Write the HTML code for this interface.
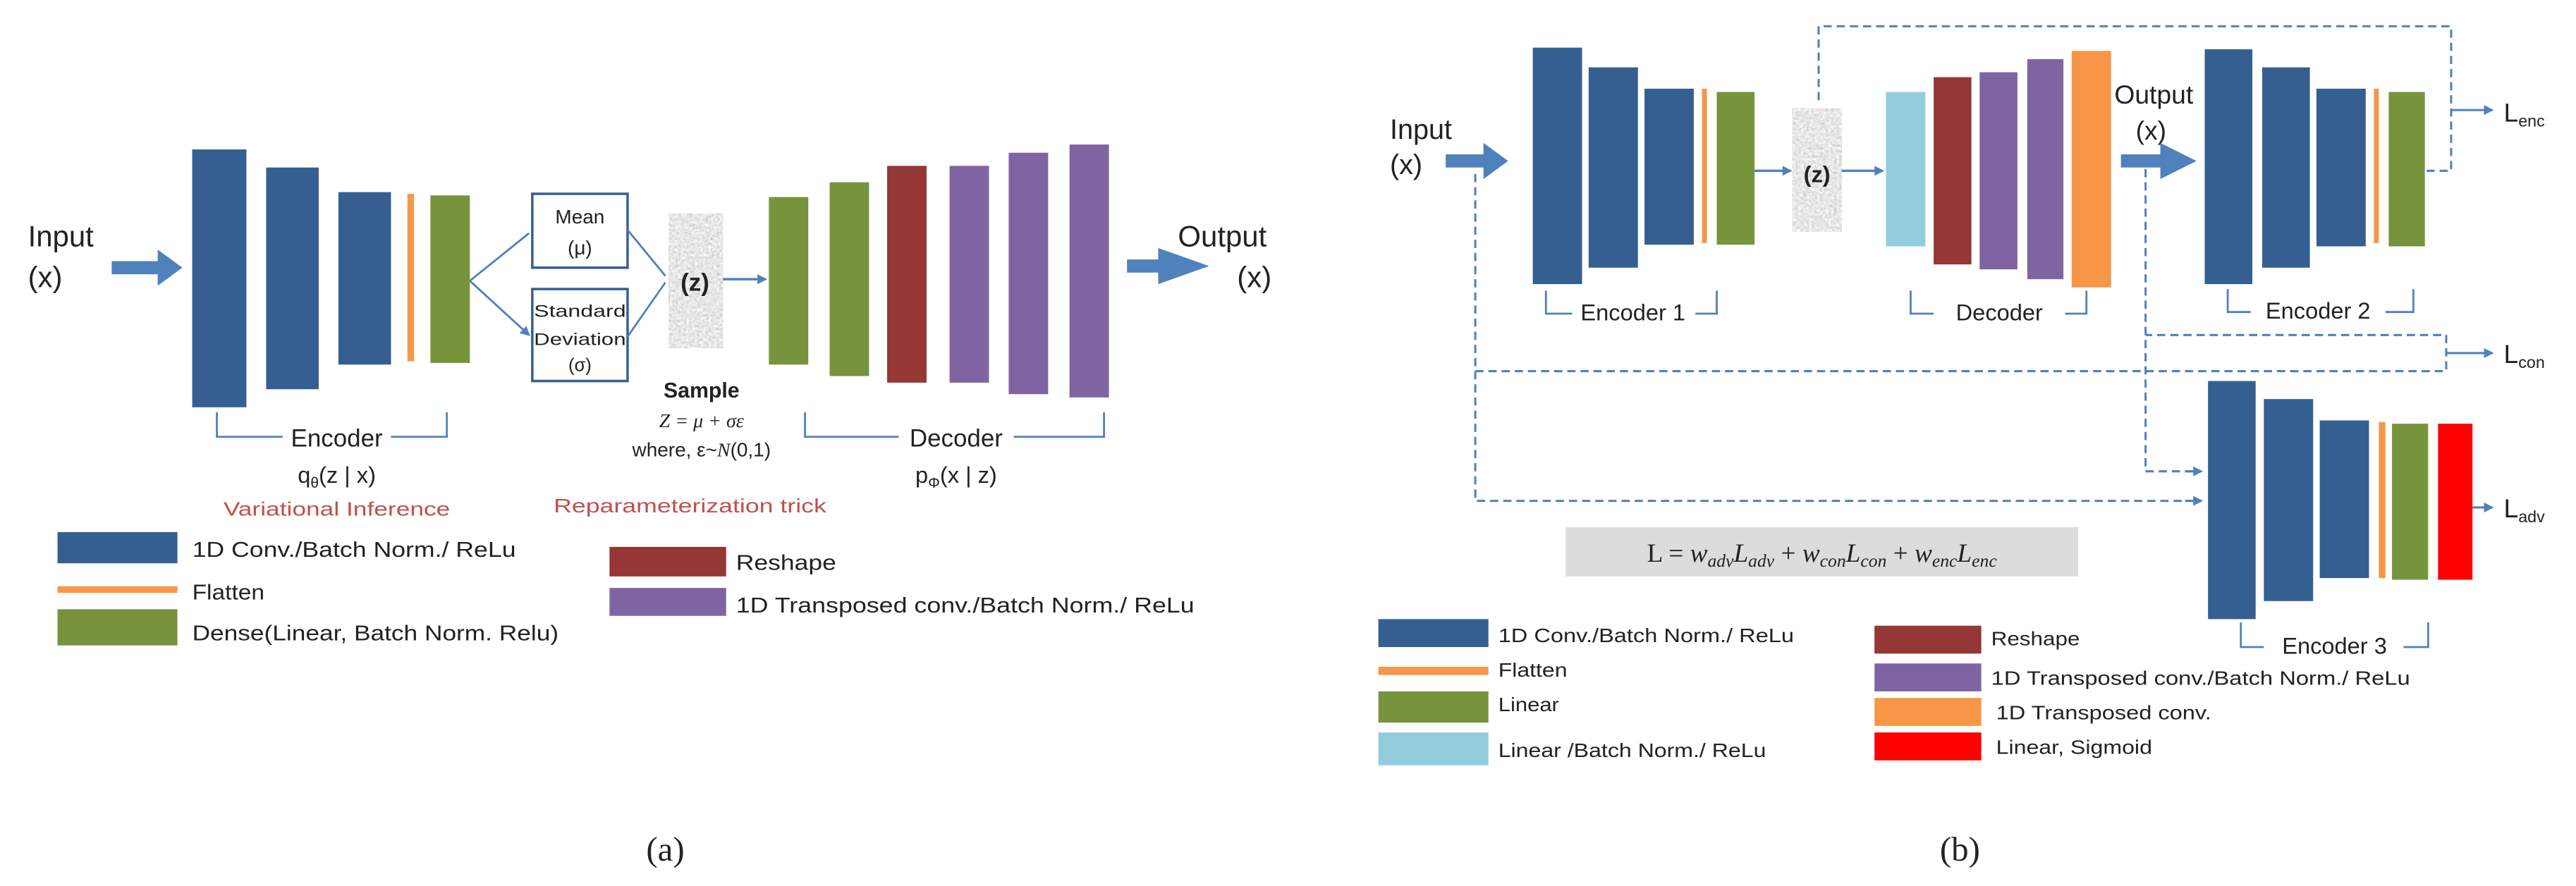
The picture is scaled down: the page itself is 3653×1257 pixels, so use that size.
<!DOCTYPE html>
<html><head><meta charset="utf-8"><style>
html,body{margin:0;padding:0;background:#fff;}
svg{display:block;}
text{font-family:"Liberation Sans",sans-serif;fill:#222;}
</style></head><body>
<svg width="3653" height="1257" viewBox="0 0 1568 539.5" preserveAspectRatio="none" xmlns="http://www.w3.org/2000/svg">
<defs>
<filter id="noise" x="0" y="0" width="100%" height="100%">
<feTurbulence type="fractalNoise" baseFrequency="0.6" numOctaves="2" seed="3"/>
<feColorMatrix type="matrix" values="0.33 0.33 0.33 0 0.3  0.33 0.33 0.33 0 0.3  0.33 0.33 0.33 0 0.3  0 0 0 0 1"/>
</filter>
<marker id="ah" markerWidth="6" markerHeight="6" refX="5" refY="3" orient="auto" markerUnits="userSpaceOnUse"><path d="M0,0 L6,3 L0,6 Z" fill="#4f81bd"/></marker>
</defs>

<!-- ===== Panel (a) ===== -->
<text x="17" y="150" font-size="18">Input</text>
<text x="17" y="175" font-size="18">(x)</text>
<path d="M68,159 H96 V152 L111,163 L96,174 V167 H68 Z" fill="#4f81bd"/>
<rect x="117" y="91" width="33" height="157" fill="#365f91"/>
<rect x="162" y="102" width="32" height="135" fill="#365f91"/>
<rect x="206" y="117" width="32" height="105" fill="#365f91"/>
<rect x="248" y="118" width="4" height="102" fill="#f79646"/>
<rect x="262" y="119" width="24" height="102" fill="#77933c"/>
<path d="M286,171 L322,142 M286,171 L322,204" stroke="#4f81bd" stroke-width="1.2" fill="none" marker-end="url(#ah)"/>
<rect x="324" y="118" width="58" height="45" fill="#fff" stroke="#365f91" stroke-width="1.5"/>
<text x="353" y="136" font-size="12" text-anchor="middle">Mean</text>
<text x="353" y="155" font-size="12" text-anchor="middle">(μ)</text>
<rect x="324" y="176" width="58" height="56" fill="#fff" stroke="#365f91" stroke-width="1.5"/>
<text x="353" y="193" font-size="10.5" text-anchor="middle" textLength="56" lengthAdjust="spacingAndGlyphs">Standard</text>
<text x="353" y="210" font-size="10.5" text-anchor="middle" textLength="56" lengthAdjust="spacingAndGlyphs">Deviation</text>
<text x="353" y="226" font-size="11" text-anchor="middle">(σ)</text>
<path d="M382,140 L405,168 M382,205 L405,172" stroke="#4f81bd" stroke-width="1.2" fill="none"/>
<rect x="407" y="130" width="33" height="82" fill="#999" filter="url(#noise)"/>
<text x="423" y="177" font-size="15" font-weight="bold" text-anchor="middle">(z)</text>
<line x1="440" y1="170" x2="466" y2="170" stroke="#4f81bd" stroke-width="1.5" marker-end="url(#ah)"/>
<rect x="468" y="120" width="24" height="102" fill="#77933c"/>
<rect x="505" y="111" width="24" height="118" fill="#77933c"/>
<rect x="540" y="101" width="24" height="132" fill="#953735"/>
<rect x="578" y="101" width="24" height="132" fill="#8064a2"/>
<rect x="614" y="93" width="24" height="147" fill="#8064a2"/>
<rect x="651" y="88" width="24" height="154" fill="#8064a2"/>
<path d="M686,158 H705 V151 L736,162 L705,173 V166 H686 Z" fill="#4f81bd"/>
<text x="717" y="150" font-size="18">Output</text>
<text x="753" y="175" font-size="18">(x)</text>
<!-- encoder bracket -->
<path d="M132,251 V266 H172 M238,266 H272 V251" stroke="#4f81bd" stroke-width="1.2" fill="none"/>
<text x="205" y="272" font-size="15" text-anchor="middle">Encoder</text>
<text x="205" y="294" font-size="14" text-anchor="middle">q<tspan font-size="9" dy="3">θ</tspan><tspan dy="-3">(z | x)</tspan></text>
<text x="136" y="314" font-size="12" textLength="138" lengthAdjust="spacingAndGlyphs" style="fill:#c0504d">Variational Inference</text>
<text x="427" y="242" font-size="13" font-weight="bold" text-anchor="middle">Sample</text>
<text x="427" y="260" font-size="12" text-anchor="middle" font-style="italic" style="font-family:'Liberation Serif',serif">Z = μ + σε</text>
<text x="427" y="278" font-size="12" text-anchor="middle">where, ε~<tspan font-style="italic" style="font-family:'Liberation Serif',serif">N</tspan>(0,1)</text>
<text x="337" y="312" font-size="12" textLength="166" lengthAdjust="spacingAndGlyphs" style="fill:#c0504d">Reparameterization trick</text>
<path d="M490,251 V266 H547 M617,266 H672 V251" stroke="#4f81bd" stroke-width="1.2" fill="none"/>
<text x="582" y="272" font-size="15" text-anchor="middle">Decoder</text>
<text x="582" y="294" font-size="14" text-anchor="middle">p<tspan font-size="9" dy="3">Φ</tspan><tspan dy="-3">(x | z)</tspan></text>
<!-- legend a -->
<rect x="35" y="324" width="73" height="19" fill="#365f91"/>
<text x="117" y="339" font-size="13" textLength="197" lengthAdjust="spacingAndGlyphs">1D Conv./Batch Norm./ ReLu</text>
<rect x="35" y="357" width="73" height="4" fill="#f79646"/>
<text x="117" y="365" font-size="13" textLength="44" lengthAdjust="spacingAndGlyphs">Flatten</text>
<rect x="35" y="371" width="73" height="22" fill="#77933c"/>
<text x="117" y="390" font-size="13" textLength="223" lengthAdjust="spacingAndGlyphs">Dense(Linear, Batch Norm. Relu)</text>
<rect x="371" y="333" width="71" height="18" fill="#953735"/>
<text x="448" y="347" font-size="13" textLength="61" lengthAdjust="spacingAndGlyphs">Reshape</text>
<rect x="371" y="358" width="71" height="17" fill="#8064a2"/>
<text x="448" y="373" font-size="13" textLength="279" lengthAdjust="spacingAndGlyphs">1D Transposed conv./Batch Norm./ ReLu</text>
<text x="405" y="524" font-size="21" text-anchor="middle" style="font-family:'Liberation Serif',serif">(a)</text>

<!-- ===== Panel (b) ===== -->
<text x="846" y="84.5" font-size="17">Input</text>
<text x="846" y="106" font-size="17">(x)</text>
<path d="M880,94 H903 V87 L918,98 L903,109 V102 H880 Z" fill="#4f81bd"/>
<rect x="933" y="29" width="30" height="144" fill="#365f91"/>
<rect x="967" y="41" width="30" height="122" fill="#365f91"/>
<rect x="1001" y="54" width="30" height="95" fill="#365f91"/>
<rect x="1036" y="54" width="3" height="94" fill="#f79646"/>
<rect x="1045" y="56" width="23" height="93" fill="#77933c"/>
<line x1="1068" y1="104" x2="1090" y2="104" stroke="#4f81bd" stroke-width="1.5" marker-end="url(#ah)"/>
<rect x="1091" y="66" width="30" height="75" fill="#999" filter="url(#noise)"/>
<text x="1106" y="111" font-size="14" font-weight="bold" text-anchor="middle">(z)</text>
<line x1="1121" y1="104" x2="1146" y2="104" stroke="#4f81bd" stroke-width="1.5" marker-end="url(#ah)"/>
<rect x="1148" y="56" width="24" height="94" fill="#93cddd"/>
<rect x="1177" y="47" width="23" height="114" fill="#953735"/>
<rect x="1205" y="44" width="23" height="120" fill="#8064a2"/>
<rect x="1234" y="36" width="22" height="134" fill="#8064a2"/>
<rect x="1261" y="31" width="24" height="144" fill="#f79646"/>
<text x="1287" y="63" font-size="16">Output</text>
<text x="1300" y="85" font-size="16">(x)</text>
<path d="M1291,94 H1315 V87 L1337,98 L1315,109 V102 H1291 Z" fill="#4f81bd"/>
<rect x="1342" y="30" width="29" height="143" fill="#365f91"/>
<rect x="1377" y="41" width="29" height="122" fill="#365f91"/>
<rect x="1410" y="54" width="30" height="96" fill="#365f91"/>
<rect x="1445" y="54" width="3" height="94" fill="#f79646"/>
<rect x="1454" y="56" width="22" height="94" fill="#77933c"/>
<g stroke="#4f81bd" stroke-width="1.3" fill="none" stroke-dasharray="5,3">
<path d="M1107,61 V16 H1492 V104 H1476"/>
<path d="M898,106 V305 H1336"/>
<path d="M898,226 H1489 V204 H1306"/>
<path d="M1306,103 V287 H1336"/>
</g>
<g stroke="#4f81bd" stroke-width="1.3" fill="none">
<line x1="1492" y1="67" x2="1517" y2="67" marker-end="url(#ah)"/>
<line x1="1489" y1="215" x2="1517" y2="215" marker-end="url(#ah)"/>
<line x1="1505" y1="309" x2="1517" y2="309" marker-end="url(#ah)"/>
<path d="M1330,287 H1340" marker-end="url(#ah)"/>
<path d="M1330,305 H1340" marker-end="url(#ah)"/>
</g>
<text x="1524" y="74" font-size="16">L<tspan font-size="10" dy="3">enc</tspan></text>
<text x="1524" y="221" font-size="16">L<tspan font-size="10" dy="3">con</tspan></text>
<text x="1524" y="315" font-size="16">L<tspan font-size="10" dy="3">adv</tspan></text>
<rect x="1344" y="232" width="29" height="145" fill="#365f91"/>
<rect x="1378" y="243" width="30" height="123" fill="#365f91"/>
<rect x="1412" y="256" width="30" height="96" fill="#365f91"/>
<rect x="1448" y="257" width="4" height="95" fill="#f79646"/>
<rect x="1456" y="258" width="22" height="95" fill="#77933c"/>
<rect x="1484" y="258" width="21" height="95" fill="#ff0000"/>
<!-- brackets b -->
<g stroke="#4f81bd" stroke-width="1.2" fill="none">
<path d="M941,177 V191 H957 M1032,191 H1045 V177"/>
<path d="M1163,177 V191 H1177 M1257,191 H1270 V177"/>
<path d="M1356,176 V190 H1370 M1452,190 H1469 V176"/>
<path d="M1364,379 V394 H1378 M1463,394 H1478 V379"/>
</g>
<text x="994" y="195" font-size="14" text-anchor="middle">Encoder 1</text>
<text x="1217" y="195" font-size="14" text-anchor="middle">Decoder</text>
<text x="1411" y="194" font-size="14" text-anchor="middle">Encoder 2</text>
<text x="1421" y="398" font-size="14" text-anchor="middle">Encoder 3</text>
<!-- formula -->
<rect x="953" y="321" width="312" height="30" fill="#dcdcdc"/>
<text x="1109" y="342" font-size="16" text-anchor="middle" style="font-family:'Liberation Serif',serif">L = <tspan font-style="italic">w<tspan font-size="11" dy="3">adv</tspan><tspan dy="-3">L</tspan><tspan font-size="11" dy="3">adv</tspan></tspan><tspan dy="-3"> + </tspan><tspan font-style="italic">w<tspan font-size="11" dy="3">con</tspan><tspan dy="-3">L</tspan><tspan font-size="11" dy="3">con</tspan></tspan><tspan dy="-3"> + </tspan><tspan font-style="italic">w<tspan font-size="11" dy="3">enc</tspan><tspan dy="-3">L</tspan><tspan font-size="11" dy="3">enc</tspan></tspan></text>
<!-- legend b -->
<rect x="839" y="377" width="67" height="17" fill="#365f91"/>
<text x="912" y="391" font-size="12" textLength="180" lengthAdjust="spacingAndGlyphs">1D Conv./Batch Norm./ ReLu</text>
<rect x="839" y="406" width="67" height="5" fill="#f79646"/>
<text x="912" y="412" font-size="12" textLength="42" lengthAdjust="spacingAndGlyphs">Flatten</text>
<rect x="839" y="421" width="67" height="19" fill="#77933c"/>
<text x="912" y="433" font-size="12" textLength="37" lengthAdjust="spacingAndGlyphs">Linear</text>
<rect x="839" y="446" width="67" height="20" fill="#93cddd"/>
<text x="912" y="461" font-size="12" textLength="163" lengthAdjust="spacingAndGlyphs">Linear /Batch Norm./ ReLu</text>
<rect x="1141" y="381" width="65" height="17" fill="#953735"/>
<text x="1212" y="393" font-size="12" textLength="54" lengthAdjust="spacingAndGlyphs">Reshape</text>
<rect x="1141" y="404" width="65" height="17" fill="#8064a2"/>
<text x="1212" y="417" font-size="12" textLength="255" lengthAdjust="spacingAndGlyphs">1D Transposed conv./Batch Norm./ ReLu</text>
<rect x="1141" y="425" width="65" height="17" fill="#f79646"/>
<text x="1215" y="438" font-size="12" textLength="131" lengthAdjust="spacingAndGlyphs">1D Transposed conv.</text>
<rect x="1141" y="446" width="65" height="17" fill="#ff0000"/>
<text x="1215" y="459" font-size="12" textLength="95" lengthAdjust="spacingAndGlyphs">Linear, Sigmoid</text>
<text x="1193" y="524" font-size="21" text-anchor="middle" style="font-family:'Liberation Serif',serif">(b)</text>
</svg>
</body></html>
